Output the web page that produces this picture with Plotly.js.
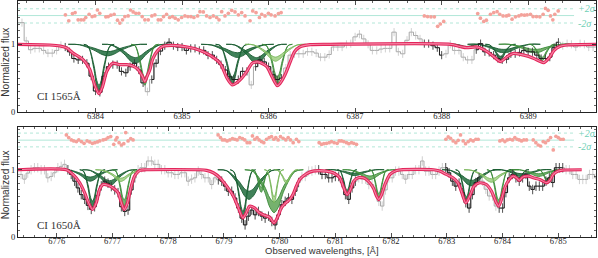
<!DOCTYPE html>
<html><head><meta charset="utf-8">
<script src="https://cdn.plot.ly/plotly-3.0.1.min.js"></script>
<style>html,body{margin:0;padding:0;background:#fff}#chart{width:598px;height:258px}</style>
</head><body><div id="chart"></div><script>
// ---------- TOP PANEL : CI 1565 ----------
const topWave = [6383.10,6383.15,6383.20,6383.25,6383.30,6383.35,6383.40,6383.45,6383.50,6383.55,
6383.60,6383.65,6383.70,6383.75,6383.80,6383.85,6383.90,6383.95,6384.00,6384.05,
6384.10,6384.15,6384.20,6384.25,6384.30,6384.35,6384.40,6384.45,6384.50,6384.55,
6384.60,6384.65,6384.70,6384.75,6384.80,6384.85,6384.90,6384.95,6385.00,6385.05,
6385.10,6385.15,6385.20,6385.25,6385.30,6385.35,6385.40,6385.45,6385.50,6385.55,
6385.60,6385.65,6385.70,6385.75,6385.80,6385.85,6385.90,6385.95,6386.00,6386.05,
6386.10,6386.15,6386.20,6386.25,6386.30,6386.35,6386.40,6386.45,6386.50,6386.55,
6386.60,6386.65,6386.70,6386.75,6386.80,6386.85,6386.90,6386.95,6387.00,6387.05,
6387.10,6387.15,6387.20,6387.25,6387.30,6387.35,6387.40,6387.45,6387.50,6387.55,
6387.60,6387.65,6387.70,6387.75,6387.80,6387.85,6387.90,6387.95,6388.00,6388.05,
6388.10,6388.15,6388.20,6388.25,6388.30,6388.35,6388.40,6388.45,6388.50,6388.55,
6388.60,6388.65,6388.70,6388.75,6388.80,6388.85,6388.90,6388.95,6389.00,6389.05,
6389.10,6389.15,6389.20,6389.25,6389.30,6389.35,6389.40,6389.45,6389.50,6389.55,
6389.60,6389.65,6389.70,6389.75,6389.80];
const topFlux = [1.32,1.32,1.05,0.92,0.94,0.94,0.91,0.87,0.87,0.91,
0.985,0.96,0.89,0.79,0.77,0.77,0.72,0.53,0.31,0.29,
0.53,0.67,0.70,0.70,0.60,0.58,0.67,0.72,0.62,0.43,
0.30,0.48,0.72,0.90,0.98,1.03,0.98,0.96,0.96,0.91,
0.94,0.94,0.91,0.91,0.84,0.84,0.77,0.70,0.62,0.52,
0.48,0.48,0.60,0.60,0.40,0.67,0.77,0.74,0.67,0.55,
0.48,0.50,0.65,0.84,0.86,0.86,0.86,0.89,0.89,0.87,
0.81,0.81,0.85,0.96,0.96,0.96,1.0,1.01,1.11,1.15,
1.08,1.0,0.91,0.91,0.93,0.94,0.94,1.18,0.89,0.86,
1.06,1.18,1.13,1.08,1.01,1.01,0.98,0.95,0.84,0.86,
1.0,0.91,0.91,0.81,0.77,0.77,0.92,1.01,0.89,0.88,
0.84,0.79,0.77,0.78,0.86,0.86,0.88,0.91,0.89,0.89,
0.84,0.79,0.79,0.81,0.95,1.03,0.98,1.01,1.0,0.96,
1.01,1.0,0.96,0.96,0.96];
const topErr = 0.06;
const topFitRegions = [[6383.63,6386.17],[6387.78,6388.04],[6388.40,6389.36]];
const topMasked = [6384.60,6385.80];

const topModelWave = [6383.10,6383.47,6383.59,6383.67,6383.74,6383.85,6383.93,6383.99,6384.04,6384.08,6384.13,6384.20,6384.28,6384.36,6384.43,6384.49,6384.54,6384.57,6384.59,6384.63,6384.66,6384.72,6384.78,6384.89,6385.06,6385.21,6385.32,6385.44,6385.52,6385.58,6385.63,6385.69,6385.75,6385.81,6385.87,6385.92,6385.98,6386.04,6386.10,6386.13,6386.19,6386.25,6386.30,6386.36,6386.48,6386.71,6388.10,6388.22,6388.29,6388.41,6388.53,6388.60,6388.68,6388.76,6388.83,6388.95,6389.06,6389.14,6389.18,6389.24,6389.30,6389.37,6389.45,6389.80];
const topModelFlux = [1.0,0.99,0.975,0.945,0.87,0.78,0.64,0.40,0.27,0.37,0.60,0.72,0.70,0.70,0.68,0.63,0.53,0.45,0.51,0.63,0.78,0.91,0.97,0.985,0.96,0.91,0.84,0.72,0.50,0.40,0.43,0.50,0.60,0.72,0.74,0.72,0.67,0.52,0.39,0.42,0.55,0.74,0.89,0.96,0.995,1.0,1.0,0.965,0.95,0.96,0.89,0.82,0.745,0.82,0.865,0.84,0.795,0.745,0.73,0.795,0.91,0.97,0.99,1.0];

const topCompWave = [
 [6383.865,6383.915,6383.98,6384.015,6384.04,6384.065,6384.10,6384.165,6384.215],
 [6383.685,6383.815,6383.98,6384.075,6384.14,6384.205,6384.30,6384.465,6384.595],
 [6384.075,6384.185,6384.328,6384.405,6384.46,6384.515,6384.592,6384.735,6384.845],
 [6384.412,6384.457,6384.516,6384.547,6384.57,6384.593,6384.624,6384.683,6384.728],
 [6385.388,6385.443,6385.514,6385.553,6385.58,6385.607,6385.646,6385.717,6385.772],
 [6385.22,6385.34,6385.496,6385.58,6385.64,6385.70,6385.784,6385.94,6386.06],
 [6385.51,6385.61,6385.74,6385.81,6385.86,6385.91,6385.98,6386.11,6386.21],
 [6385.925,6385.975,6386.04,6386.075,6386.10,6386.125,6386.16,6386.225,6386.275],
 [6385.73,6385.83,6385.96,6386.03,6386.08,6386.13,6386.20,6386.33,6386.43],
 [6388.505,6388.555,6388.62,6388.655,6388.68,6388.705,6388.74,6388.805,6388.855],
 [6388.30,6388.42,6388.576,6388.66,6388.72,6388.78,6388.864,6389.02,6389.14],
 [6389.002,6389.047,6389.106,6389.137,6389.16,6389.183,6389.214,6389.273,6389.318],
 [6388.66,6388.78,6388.936,6389.02,6389.08,6389.14,6389.224,6389.38,6389.50],
 [6388.115,6388.165,6388.23,6388.265,6388.29,6388.315,6388.35,6388.415,6388.465]
];
const topCompFlux = [
 [1.0,0.97,0.67,0.41,0.33,0.41,0.67,0.97,1.0],
 [1.0,0.994,0.93,0.877,0.86,0.877,0.93,0.994,1.0],
 [1.0,0.99,0.88,0.79,0.76,0.79,0.88,0.99,1.0],
 [1.0,0.98,0.73,0.52,0.45,0.52,0.73,0.98,1.0],
 [1.0,0.98,0.74,0.525,0.46,0.525,0.74,0.98,1.0],
 [1.0,0.99,0.92,0.86,0.84,0.86,0.92,0.99,1.0],
 [1.0,0.99,0.88,0.79,0.76,0.79,0.88,0.99,1.0],
 [1.0,0.98,0.74,0.525,0.46,0.525,0.74,0.98,1.0],
 [1.0,0.99,0.89,0.81,0.78,0.81,0.89,0.99,1.0],
 [1.0,0.99,0.90,0.82,0.80,0.82,0.90,0.99,1.0],
 [1.0,1.0,0.95,0.91,0.90,0.91,0.95,1.0,1.0],
 [1.0,0.99,0.89,0.81,0.78,0.81,0.89,0.99,1.0],
 [1.0,1.0,0.95,0.91,0.90,0.91,0.95,1.0,1.0],
 [1.0,1.0,0.98,0.965,0.96,0.965,0.98,1.0,1.0]
];
const topCompShade = ['d','d','d','m','d','d','d','m','l','d','d','m','m','d'];
const topCompSpread = [0.09,0.22,0.18,0.1,0.1,0.22,0.18,0.1,0.14,0.12,0.25,0.12,0.25,0.2];

const topResWave = [6383.652,6383.691,6383.733,6383.764,6383.799,6383.833,6383.864,6383.887,6383.926,6383.961,6383.992,6384.022,6384.049,6384.119,6384.146,6384.177,6384.215,6384.254,6384.281,6384.312,6384.339,6384.377,6384.404,6384.435,6384.466,6384.501,6384.539,6384.570,6384.609,6384.651,6384.686,6384.725,6384.755,6384.786,6384.821,6384.856,6384.890,6384.921,6384.956,6384.995,6385.033,6385.068,6385.103,6385.137,6385.180,
6385.207,6385.246,6385.284,6385.323,6385.361,6385.400,6385.427,6385.458,6385.496,6385.535,6385.574,6385.612,6385.651,6385.689,6385.728,6385.786,6385.817,6385.855,6385.894,6385.921,6385.959,6385.998,6386.029,6386.075,6386.114,6386.145,
6387.800,6387.838,6387.877,6387.916,6387.954,6387.985,6388.024,6388.417,6388.448,6388.487,6388.517,6388.564,6388.602,6388.641,6388.672,6388.710,6388.749,6388.776,6388.814,6388.853,6388.892,6388.922,6388.957,6388.988,6389.027,6389.057,6389.096,6389.135,6389.173,6389.200,6389.231,6389.258,6389.285,6389.308,6389.347];
const topResVal = [1.435,1.348,1.454,1.469,1.362,1.362,1.362,1.396,1.444,1.410,1.420,1.507,1.459,1.406,1.410,1.430,1.444,1.357,1.314,1.362,1.410,1.420,1.507,1.478,1.459,1.459,1.410,1.362,1.362,1.420,1.435,1.362,1.362,1.410,1.444,1.396,1.410,1.386,1.362,1.396,1.420,1.410,1.410,1.396,1.420,
1.483,1.478,1.420,1.396,1.420,1.396,1.362,1.483,1.420,1.459,1.502,1.478,1.435,1.469,1.420,1.348,1.493,1.469,1.396,1.444,1.420,1.459,1.435,1.420,1.454,1.469,
1.420,1.410,1.406,1.406,1.266,1.300,1.338,1.454,1.386,1.338,1.357,1.444,1.469,1.483,1.444,1.420,1.420,1.430,1.372,1.406,1.420,1.435,1.430,1.435,1.444,1.410,1.410,1.406,1.444,1.531,1.502,1.420,1.362,1.444,1.493];
const topResLevels = [1.525,1.425,1.315]; // +2sigma, 0, -2sigma

// ---------- BOTTOM PANEL : CI 1650 ----------
const botWave = [6775.30,6775.36,6775.42,6775.48,6775.54,6775.60,6775.66,6775.72,6775.78,6775.84,
6775.90,6775.96,6776.02,6776.08,6776.14,6776.20,6776.26,6776.32,6776.38,6776.44,
6776.50,6776.56,6776.62,6776.68,6776.74,6776.80,6776.86,6776.92,6776.98,6777.04,
6777.10,6777.16,6777.22,6777.28,6777.34,6777.40,6777.46,6777.52,6777.58,6777.64,
6777.70,6777.76,6777.82,6777.88,6777.94,6778.00,6778.06,6778.12,6778.18,6778.24,
6778.30,6778.36,6778.42,6778.48,6778.54,6778.60,6778.66,6778.72,6778.78,6778.84,
6778.90,6778.96,6779.02,6779.08,6779.14,6779.20,6779.26,6779.32,6779.38,6779.44,
6779.50,6779.56,6779.62,6779.68,6779.74,6779.80,6779.86,6779.92,6779.98,6780.04,
6780.10,6780.16,6780.22,6780.28,6780.34,6780.40,6780.46,6780.52,6780.58,6780.64,
6780.70,6780.76,6780.82,6780.88,6780.94,6781.00,6781.06,6781.12,6781.18,6781.24,
6781.30,6781.36,6781.42,6781.48,6781.54,6781.60,6781.66,6781.72,6781.78,6781.84,
6781.90,6781.96,6782.02,6782.08,6782.14,6782.20,6782.26,6782.32,6782.38,6782.44,
6782.50,6782.56,6782.62,6782.68,6782.74,6782.80,6782.86,6782.92,6782.98,6783.04,
6783.10,6783.16,6783.22,6783.28,6783.34,6783.40,6783.46,6783.52,6783.58,6783.64,
6783.70,6783.76,6783.82,6783.88,6783.94,6784.00,6784.06,6784.12,6784.18,6784.24,
6784.30,6784.36,6784.42,6784.48,6784.54,6784.60,6784.66,6784.72,6784.78,6784.84,
6784.90,6784.96,6785.02,6785.08,6785.14,6785.20,6785.26,6785.32,6785.38,6785.44,
6785.50,6785.56,6785.62,6785.68];
const botFlux = [0.93,0.93,0.86,0.95,1.0,1.03,1.03,1.0,1.0,0.88,
0.90,0.955,1.03,1.05,1.08,1.0,0.93,0.83,0.73,0.63,
0.56,0.47,0.41,0.45,0.62,0.76,0.83,0.80,0.75,0.70,
0.66,0.45,0.38,0.40,0.70,0.88,1.0,1.03,1.03,1.13,
1.13,1.08,1.08,1.0,1.0,0.955,0.955,0.93,0.93,0.955,
0.955,0.83,0.86,0.88,0.98,0.93,0.88,0.88,0.78,0.88,
0.85,0.83,0.756,0.68,0.68,0.58,0.43,0.28,0.18,0.31,
0.40,0.33,0.38,0.31,0.28,0.31,0.23,0.18,0.33,0.48,
0.53,0.58,0.56,0.68,0.81,0.90,0.90,0.98,0.98,1.0,
1.0,0.93,0.93,0.88,0.88,0.90,0.90,0.81,0.63,0.56,
0.73,0.83,0.88,0.86,0.86,0.78,0.78,0.68,0.53,0.46,
0.70,0.88,0.88,0.98,0.98,0.93,0.86,0.93,0.93,1.0,
1.0,1.13,0.98,0.98,0.93,0.93,0.98,1.03,1.03,0.955,
0.83,0.756,0.80,0.66,0.51,0.43,0.63,0.81,0.88,0.83,
0.71,0.61,0.61,0.46,0.43,0.43,0.66,0.88,0.93,0.88,
0.83,0.88,0.93,0.756,0.706,0.756,0.756,0.756,0.83,0.88,
0.81,1.03,1.03,1.03,1.0,1.0,0.93,0.93,0.856,0.856,
0.856,0.93,0.93,0.88];
const botErr = 0.07;
const botFitRegions = [[6776.15,6777.40],[6778.88,6780.36],[6780.69,6781.40],[6782.96,6783.58],[6783.93,6785.11]];
const botMasked = [];

const botModelWave = [6775.30,6776.17,6776.29,6776.41,6776.50,6776.56,6776.64,6776.71,6776.77,6776.83,6776.92,6777.01,6777.10,6777.16,6777.21,6777.27,6777.33,6777.40,6777.49,6777.61,6778.57,6778.69,6778.81,6778.93,6779.05,6779.17,6779.26,6779.34,6779.40,6779.46,6779.55,6779.64,6779.73,6779.82,6779.90,6779.97,6780.03,6780.11,6780.18,6780.24,6780.30,6780.36,6780.48,6780.60,6780.84,6780.96,6781.08,6781.15,6781.21,6781.27,6781.33,6781.41,6781.50,6781.59,6781.68,6781.74,6781.78,6781.83,6781.89,6781.98,6782.10,6782.76,6782.87,6782.99,6783.11,6783.20,6783.26,6783.34,6783.41,6783.49,6783.59,6783.71,6783.80,6783.89,6783.93,6783.98,6784.04,6784.10,6784.19,6784.25,6784.30,6784.36,6784.46,6784.55,6784.67,6784.79,6784.85,6784.91,6785.00,6785.09,6785.42];
const botModelFlux = [1.0,1.0,0.93,0.81,0.66,0.53,0.41,0.51,0.71,0.78,0.77,0.73,0.66,0.51,0.41,0.51,0.73,0.91,0.99,1.0,1.0,0.99,0.955,0.88,0.756,0.607,0.433,0.284,0.358,0.458,0.433,0.358,0.323,0.293,0.209,0.308,0.433,0.507,0.557,0.632,0.756,0.856,0.94,0.98,0.98,0.955,0.881,0.731,0.632,0.706,0.831,0.881,0.881,0.831,0.731,0.607,0.557,0.632,0.781,0.93,0.99,1.0,0.98,0.93,0.88,0.806,0.682,0.507,0.607,0.756,0.806,0.781,0.682,0.507,0.458,0.557,0.731,0.831,0.906,0.881,0.841,0.89,0.906,0.881,0.856,0.806,0.841,0.93,0.98,0.995,1.0];

const botCompWave = [
 [6776.413,6776.478,6776.562,6776.608,6776.64,6776.672,6776.718,6776.802,6776.868],
 [6776.11,6776.25,6776.432,6776.53,6776.60,6776.67,6776.768,6776.95,6777.09],
 [6776.46,6776.60,6776.782,6776.88,6776.95,6777.02,6777.118,6777.30,6777.44],
 [6777.00,6777.06,6777.138,6777.18,6777.21,6777.24,6777.282,6777.36,6777.42],
 [6776.695,6776.825,6776.994,6777.085,6777.15,6777.215,6777.306,6777.475,6777.605],
 [6779.113,6779.178,6779.262,6779.308,6779.34,6779.372,6779.418,6779.502,6779.568],
 [6778.89,6779.05,6779.258,6779.37,6779.45,6779.53,6779.642,6779.85,6780.01],
 [6779.375,6779.525,6779.72,6779.825,6779.90,6779.975,6780.08,6780.275,6780.425],
 [6779.495,6779.545,6779.61,6779.645,6779.67,6779.695,6779.73,6779.795,6779.845],
 [6779.91,6779.97,6780.048,6780.09,6780.12,6780.15,6780.192,6780.27,6780.33],
 [6781.035,6781.085,6781.15,6781.185,6781.21,6781.235,6781.27,6781.335,6781.385],
 [6780.825,6780.975,6781.17,6781.275,6781.35,6781.425,6781.53,6781.725,6781.875],
 [6781.605,6781.655,6781.72,6781.755,6781.78,6781.805,6781.84,6781.905,6781.955],
 [6781.13,6781.27,6781.452,6781.55,6781.62,6781.69,6781.788,6781.97,6782.11],
 [6783.158,6783.21,6783.284,6783.322,6783.35,6783.378,6783.416,6783.49,6783.543],
 [6782.915,6783.065,6783.26,6783.365,6783.44,6783.515,6783.62,6783.815,6783.965],
 [6783.72,6783.78,6783.858,6783.90,6783.93,6783.96,6784.002,6784.08,6784.14],
 [6783.31,6783.45,6783.632,6783.73,6783.80,6783.87,6783.968,6784.15,6784.29],
 [6784.125,6784.175,6784.24,6784.275,6784.30,6784.325,6784.36,6784.425,6784.475],
 [6783.825,6783.975,6784.17,6784.275,6784.35,6784.425,6784.53,6784.725,6784.875],
 [6784.625,6784.675,6784.74,6784.775,6784.80,6784.825,6784.86,6784.925,6784.975],
 [6784.16,6784.30,6784.482,6784.58,6784.65,6784.72,6784.818,6785.0,6785.14],
 [6779.725,6779.775,6779.84,6779.875,6779.90,6779.925,6779.96,6780.025,6780.075]
];
const botCompFlux = [
 [1.0,0.98,0.75,0.54,0.48,0.54,0.75,0.98,1.0],
 [1.0,0.99,0.93,0.877,0.86,0.877,0.93,0.99,1.0],
 [1.0,0.99,0.90,0.824,0.80,0.824,0.90,0.99,1.0],
 [1.0,0.98,0.755,0.56,0.50,0.56,0.755,0.98,1.0],
 [1.0,0.99,0.93,0.87,0.85,0.87,0.93,0.99,1.0],
 [1.0,0.97,0.67,0.40,0.32,0.40,0.67,0.97,1.0],
 [1.0,0.985,0.81,0.665,0.62,0.665,0.81,0.985,1.0],
 [1.0,0.975,0.73,0.51,0.44,0.51,0.73,0.975,1.0],
 [1.0,0.99,0.85,0.735,0.70,0.735,0.85,0.99,1.0],
 [1.0,0.99,0.91,0.84,0.82,0.84,0.91,0.99,1.0],
 [1.0,0.985,0.83,0.70,0.66,0.70,0.83,0.985,1.0],
 [1.0,1.0,0.966,0.94,0.93,0.94,0.966,1.0,1.0],
 [1.0,0.985,0.80,0.65,0.60,0.65,0.80,0.985,1.0],
 [1.0,0.995,0.94,0.895,0.88,0.895,0.94,0.995,1.0],
 [1.0,0.98,0.78,0.60,0.55,0.60,0.78,0.98,1.0],
 [1.0,0.99,0.90,0.824,0.80,0.824,0.90,0.99,1.0],
 [1.0,0.98,0.755,0.56,0.50,0.56,0.755,0.98,1.0],
 [1.0,0.99,0.92,0.86,0.84,0.86,0.92,0.99,1.0],
 [1.0,0.995,0.935,0.885,0.87,0.885,0.935,0.995,1.0],
 [1.0,1.0,0.96,0.93,0.92,0.93,0.96,1.0,1.0],
 [1.0,0.995,0.92,0.86,0.84,0.86,0.92,0.995,1.0],
 [1.0,1.0,0.96,0.93,0.92,0.93,0.96,1.0,1.0],
 [1.0,0.985,0.78,0.60,0.55,0.60,0.78,0.985,1.0]
];
const botCompShade = ['d','d','d','m','l','d','d','m','m','l','d','d','m','m','d','d','m','l','d','d','m','m','l'];
const botCompSpread = [0.1,0.22,0.18,0.1,0.16,0.09,0.16,0.14,0.12,0.12,0.1,0.25,0.1,0.22,0.1,0.2,0.1,0.16,0.12,0.25,0.12,0.25,0.1];

const botResWave = [6776.173,6776.215,6776.263,6776.305,6776.353,6776.395,6776.443,6776.491,6776.544,6776.592,6776.640,6776.682,6776.730,6776.772,6776.832,6776.879,6776.921,6776.969,6777.023,6777.059,6777.083,6777.119,6777.161,6777.203,6777.238,6777.280,6777.328,6777.370,
6778.896,6778.938,6778.974,6779.016,6779.058,6779.106,6779.153,6779.195,6779.237,6779.285,6779.333,6779.375,6779.417,6779.465,6779.512,6779.554,6779.596,6779.632,6779.674,6779.716,6779.764,6779.812,6779.854,6779.895,6779.931,6779.973,6780.015,6780.063,6780.111,6780.153,6780.195,6780.243,6780.302,6780.344,
6780.709,6780.751,6780.793,6780.841,6780.889,6780.931,6780.979,6781.032,6781.068,6781.110,6781.152,6781.200,6781.242,6781.290,6781.331,6781.379,
6782.983,6783.025,6783.067,6783.114,6783.162,6783.204,6783.246,6783.294,6783.336,6783.384,6783.426,6783.473,6783.521,6783.563,
6783.952,6784.000,6784.042,6784.084,6784.132,6784.180,6784.221,6784.263,6784.299,6784.341,6784.383,6784.431,6784.551,6784.598,6784.640,6784.682,6784.730,6784.772,6784.820,6784.862,6784.910,6784.958,6785.000,6785.041,6785.089];
const botResVal = [1.518,1.478,1.443,1.428,1.418,1.443,1.418,1.393,1.428,1.413,1.393,1.403,1.413,1.428,1.443,1.453,1.478,1.493,1.378,1.443,1.478,1.403,1.368,1.388,1.552,1.428,1.463,1.443,
1.518,1.478,1.443,1.443,1.428,1.443,1.463,1.453,1.443,1.478,1.463,1.443,1.403,1.403,1.503,1.453,1.478,1.443,1.418,1.403,1.453,1.478,1.493,1.453,1.478,1.443,1.493,1.468,1.443,1.478,1.443,1.403,1.453,1.418,
1.403,1.378,1.388,1.393,1.403,1.418,1.403,1.393,1.428,1.428,1.418,1.403,1.388,1.403,1.393,1.378,
1.453,1.488,1.468,1.428,1.403,1.438,1.518,1.428,1.388,1.418,1.443,1.428,1.453,1.453,
1.428,1.443,1.418,1.443,1.453,1.443,1.478,1.453,1.443,1.428,1.443,1.443,1.443,1.403,1.368,1.353,1.418,1.403,1.438,1.478,1.294,1.498,1.478,1.453,1.453];
const botResLevels = [1.545,1.440,1.340];

const topLabel = 'CI 1565Å';
const botLabel = 'CI 1650Å';
const xTitle = 'Observed wavelengths, [Å]';
const yTitle = 'Normalized flux';

// ---------- build ----------
const shadeStyle = {
  d:{line:'#1a5c31', fill:'rgba(30,108,60,0.85)'},
  m:{line:'#3b8b3a', fill:'rgba(84,158,74,0.8)'},
  l:{line:'#78b65a', fill:'rgba(146,200,112,0.75)'}
};
function inRegions(x, regs){ return regs.some(r => x >= r[0] && x <= r[1]); }

function panelTraces(p, xa, ya){
  const tr = [];
  tr.push({x:p.wave, y:p.flux, xaxis:xa, yaxis:ya, mode:'lines', hoverinfo:'skip',
    line:{shape:'hvh', color:'#a8a8a8', width:1},
    error_y:{type:'constant', value:p.err, color:'#c4c4c4', thickness:0.8, width:0}});
  p.compWave.forEach((xs,i)=>{
    const st = shadeStyle[p.shade[i]], s = p.spread[i];
    const lo = p.compFlux[i].map(v => 1 - (1 - v) * (1 + s));
    const hi = p.compFlux[i].map(v => 1 - (1 - v) * (1 - s));
    tr.push({x:xs, y:lo, xaxis:xa, yaxis:ya, mode:'lines', hoverinfo:'skip',
      line:{shape:'spline', smoothing:0.9, color:st.line, width:0.9}});
    tr.push({x:xs, y:hi, xaxis:xa, yaxis:ya, mode:'lines', hoverinfo:'skip', fill:'tonexty', fillcolor:st.fill,
      line:{shape:'spline', smoothing:0.9, color:st.line, width:0.9}});
  });
  const blk = p.flux.map((f,i) => (inRegions(p.wave[i], p.regions) && !p.masked.includes(p.wave[i])) ? f : null);
  tr.push({x:p.wave, y:blk, xaxis:xa, yaxis:ya, mode:'lines', hoverinfo:'skip', connectgaps:false,
    line:{shape:'hvh', color:'#1e1e1e', width:1},
    error_y:{type:'constant', value:p.err, color:'#3a3a3a', thickness:0.8, width:0}});
  tr.push({x:p.modelWave, y:p.modelFlux, xaxis:xa, yaxis:ya, mode:'lines', hoverinfo:'skip',
    line:{shape:'spline', smoothing:0.7, color:'#e3245a', width:3.2}});
  tr.push({x:p.modelWave, y:p.modelFlux, xaxis:xa, yaxis:ya, mode:'lines', hoverinfo:'skip',
    line:{shape:'spline', smoothing:0.7, color:'#f486a5', width:1.1}});
  tr.push({x:p.resWave, y:p.resVal, xaxis:xa, yaxis:ya, mode:'markers', hoverinfo:'skip',
    marker:{size:3.7, color:'#f4a29b'}});
  return tr;
}

const topPanel = {wave:topWave, flux:topFlux, err:topErr, regions:topFitRegions, masked:topMasked,
  modelWave:topModelWave, modelFlux:topModelFlux, compWave:topCompWave, compFlux:topCompFlux,
  shade:topCompShade, spread:topCompSpread, resWave:topResWave, resVal:topResVal};
const botPanel = {wave:botWave, flux:botFlux, err:botErr, regions:botFitRegions, masked:botMasked,
  modelWave:botModelWave, modelFlux:botModelFlux, compWave:botCompWave, compFlux:botCompFlux,
  shade:botCompShade, spread:botCompSpread, resWave:botResWave, resVal:botResVal};

const traces = panelTraces(topPanel,'x','y').concat(panelTraces(botPanel,'x2','y2'));

const tickFont = {family:'Liberation Serif, DejaVu Serif, serif', size:8.5, color:'#222'};
function xAxis(range, anchor){
  return {range:range, anchor:anchor, showline:true, linecolor:'#222', linewidth:1, mirror:'allticks',
    ticks:'inside', ticklen:4, tickcolor:'#222', tickwidth:0.8, dtick:1, tick0:6000, showgrid:false, zeroline:false,
    tickfont:tickFont, automargin:false, ticklabelstandoff:-4,
    minor:{ticks:'inside', dtick:0.2, ticklen:2, tickcolor:'#222', tickwidth:0.7, showgrid:false}};
}
function yAxis(domain, anchor){
  return {domain:domain, anchor:anchor, range:[0,1.64], showline:true, linecolor:'#222', linewidth:1, mirror:'allticks',
    ticks:'inside', ticklen:4, tickcolor:'#222', tickwidth:0.8, dtick:1, tick0:0, showgrid:false, zeroline:false,
    tickfont:tickFont, automargin:false,
    minor:{ticks:'inside', dtick:0.1, ticklen:2, tickcolor:'#222', tickwidth:0.7, showgrid:false}};
}

const teal = '#a9e4d4';
const shapes = [];
[[topResLevels,'y','x'],[botResLevels,'y2','x2']].forEach(([lv, yr, xr])=>{
  lv.forEach((v,i)=>{
    shapes.push({type:'line', xref:xr+' domain', yref:yr, x0:0, x1:0.962, y0:v, y1:v,
      line:{color:teal, width:0.9, dash: i===1 ? 'solid' : 'dot'}, layer:'below'});
  });
});

const annFont = {family:'Liberation Serif, DejaVu Serif, serif', size:10, color:'#6fcfb5'};
const serifLab = {family:'Liberation Serif, DejaVu Serif, serif', size:11, color:'#333'};
const sansLab = {family:'Liberation Sans, Arial, sans-serif', size:10, color:'#333'};
const annotations = [
  {xref:'x domain', yref:'y', x:0.966, y:topResLevels[0], text:'<i>+2σ</i>', showarrow:false, xanchor:'left', yanchor:'middle', font:annFont},
  {xref:'x domain', yref:'y', x:0.966, y:topResLevels[2], text:'<i>-2σ</i>', showarrow:false, xanchor:'left', yanchor:'middle', font:annFont},
  {xref:'x2 domain', yref:'y2', x:0.966, y:botResLevels[0], text:'<i>+2σ</i>', showarrow:false, xanchor:'left', yanchor:'middle', font:annFont},
  {xref:'x2 domain', yref:'y2', x:0.966, y:botResLevels[2], text:'<i>-2σ</i>', showarrow:false, xanchor:'left', yanchor:'middle', font:annFont},
  {xref:'x domain', yref:'y domain', x:0.03, y:0.14, text:topLabel, showarrow:false, xanchor:'left', yanchor:'middle', font:serifLab},
  {xref:'x2 domain', yref:'y2 domain', x:0.03, y:0.11, text:botLabel, showarrow:false, xanchor:'left', yanchor:'middle', font:serifLab},
  {xref:'paper', yref:'paper', x:-0.022, y:0.74, text:yTitle, textangle:-90, showarrow:false, xanchor:'center', yanchor:'middle', font:sansLab},
  {xref:'paper', yref:'paper', x:-0.022, y:0.22, text:yTitle, textangle:-90, showarrow:false, xanchor:'center', yanchor:'middle', font:sansLab},
  {xref:'paper', yref:'paper', x:0.526, y:-0.088, text:xTitle, showarrow:false, xanchor:'center', yanchor:'bottom',
    font:{family:'Liberation Sans, Arial, sans-serif', size:9.5, color:'#333'}}
];

const layout = {
  width:598, height:258, margin:{l:18, r:2, t:1, b:21},
  paper_bgcolor:'#fff', plot_bgcolor:'#fff', showlegend:false,
  xaxis: xAxis([6383.104, 6389.784], 'y'),
  yaxis: yAxis([0.5297, 1], 'x'),
  xaxis2: xAxis([6775.305, 6785.677], 'y2'),
  yaxis2: yAxis([0, 0.4674], 'x2'),
  shapes: shapes, annotations: annotations
};
Plotly.newPlot('chart', traces, layout, {staticPlot:true, displayModeBar:false});
</script></body></html>
